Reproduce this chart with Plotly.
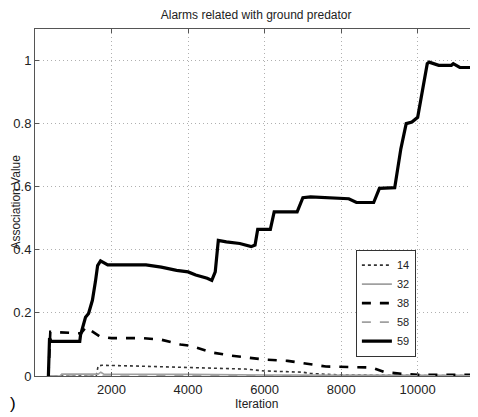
import plotly.graph_objects as go

# Iteration / association values
x14 = [350, 1600, 1650, 1750, 2500, 4000, 5500, 6000, 7000, 7200, 8000, 11550]
y14 = [0.0, 0.0, 0.032, 0.034, 0.032, 0.028, 0.022, 0.016, 0.012, 0.008, 0.003, 0.001]

x32 = [350, 650, 700, 1650, 1720, 1800, 4000, 6000, 11550]
y32 = [0.0, 0.0, 0.006, 0.006, 0.012, 0.006, 0.005, 0.003, 0.002]

x38 = [350, 400, 1200, 1330, 1450, 1700, 2000, 2800, 3300, 3800, 4100, 4600, 5100,
       5500, 6000, 6600, 7050, 7600, 8800, 9150, 9700, 10000, 11550]
y38 = [0.0, 0.14, 0.135, 0.155, 0.145, 0.125, 0.12, 0.12, 0.115, 0.10, 0.095, 0.075, 0.065,
       0.06, 0.052, 0.048, 0.04, 0.03, 0.027, 0.012, 0.006, 0.004, 0.004]

x58 = [350, 11550]
y58 = [0.0, 0.001]

x59 = [350, 380, 420, 1170, 1190, 1320, 1400, 1500, 1580, 1636, 1713, 1900, 2900, 3300,
       3700, 4000, 4200, 4500, 4620, 4710, 4790, 5000, 5350, 5650, 5750, 5820, 6150, 6250,
       6850, 7000, 7200, 8200, 8400, 8850, 9000, 9400, 9560, 9700, 9850, 10000, 10250,
       10300, 10550, 10880, 10930, 11100, 11450, 11530]
y59 = [0.0, 0.12, 0.11, 0.11, 0.13, 0.186, 0.198, 0.24, 0.30, 0.35, 0.365, 0.352, 0.352, 0.345,
       0.335, 0.33, 0.32, 0.31, 0.303, 0.33, 0.43, 0.425, 0.42, 0.41, 0.415, 0.465, 0.465, 0.52,
       0.52, 0.565, 0.568, 0.562, 0.55, 0.55, 0.595, 0.597, 0.72, 0.80, 0.805, 0.82, 0.99,
       0.995, 0.985, 0.985, 0.99, 0.978, 0.978, 1.0]

x_ticks = [2000, 4000, 6000, 8000, 10000]
y_ticks = [0, 0.2, 0.4, 0.6, 0.8, 1]

FONT = "Liberation Sans, Arial, sans-serif"

fig = go.Figure()

series = [
    ("14", x14, y14, dict(color="#333333", width=1.6, dash="dot")),
    ("32", x32, y32, dict(color="#a0a0a0", width=1.6)),
    ("38", x38, y38, dict(color="black", width=2.6, dash="dash")),
    ("58", x58, y58, dict(color="#a0a0a0", width=1.6, dash="dash")),
    ("59", x59, y59, dict(color="black", width=3.2)),
]
for name, xs, ys, line in series:
    fig.add_trace(go.Scatter(x=xs, y=ys, mode="lines", name=name, line=line))

axis_common = dict(
    showgrid=True,
    gridcolor="#b0b0b0",
    griddash="1px,3px",
    gridwidth=1,
    showline=True,
    linecolor="#555555",
    linewidth=1,
    mirror="ticks",
    ticks="inside",
    ticklen=4,
    tickcolor="#555555",
    zeroline=False,
    tickfont=dict(size=13, color="#222222", family=FONT),
)

fig.update_xaxes(range=[0, 11550], tickvals=x_ticks, ticktext=[str(v) for v in x_ticks],
                 ticklabelstandoff=1, **axis_common)
fig.update_yaxes(range=[0, 1.1], tickvals=y_ticks, ticktext=["0", "0.2", "0.4", "0.6", "0.8", "1"],
                 **axis_common)

# axis labels as annotations: the y label overlaps the tick labels like in the original
fig.add_annotation(text="Association Value", xref="paper", yref="paper",
                   x=-0.045, y=0.5, textangle=-90, showarrow=False,
                   xanchor="center", yanchor="middle",
                   font=dict(size=12, family=FONT, color="#222222"))
fig.add_annotation(text="Iteration", xref="paper", yref="paper",
                   x=0.5, y=-0.081, showarrow=False,
                   xanchor="center", yanchor="middle",
                   font=dict(size=12, family=FONT, color="#222222"))
fig.add_annotation(text=")", xref="paper", yref="paper", x=-0.061, y=-0.08,
                   xanchor="left", yanchor="middle", showarrow=False,
                   font=dict(size=17, family=FONT, color="black"))

# page body has an 8px margin, so the figure is 8px smaller than the window
fig.update_layout(
    width=470,
    height=409,
    margin=dict(l=27, r=1, t=21, b=41),
    paper_bgcolor="white",
    plot_bgcolor="white",
    font=dict(family=FONT, color="#222222"),
    title=dict(text="Alarms related with ground predator", x=0.528, xanchor="center",
               y=0.983, yanchor="middle", font=dict(size=12, family=FONT, color="#222222")),
    legend=dict(x=0.726, y=0.21, xanchor="left", yanchor="middle",
                bgcolor="white", bordercolor="#333333", borderwidth=1,
                font=dict(size=11, family=FONT), tracegroupgap=0, itemwidth=30),
    showlegend=True,
)

fig.write_html("out.html")
